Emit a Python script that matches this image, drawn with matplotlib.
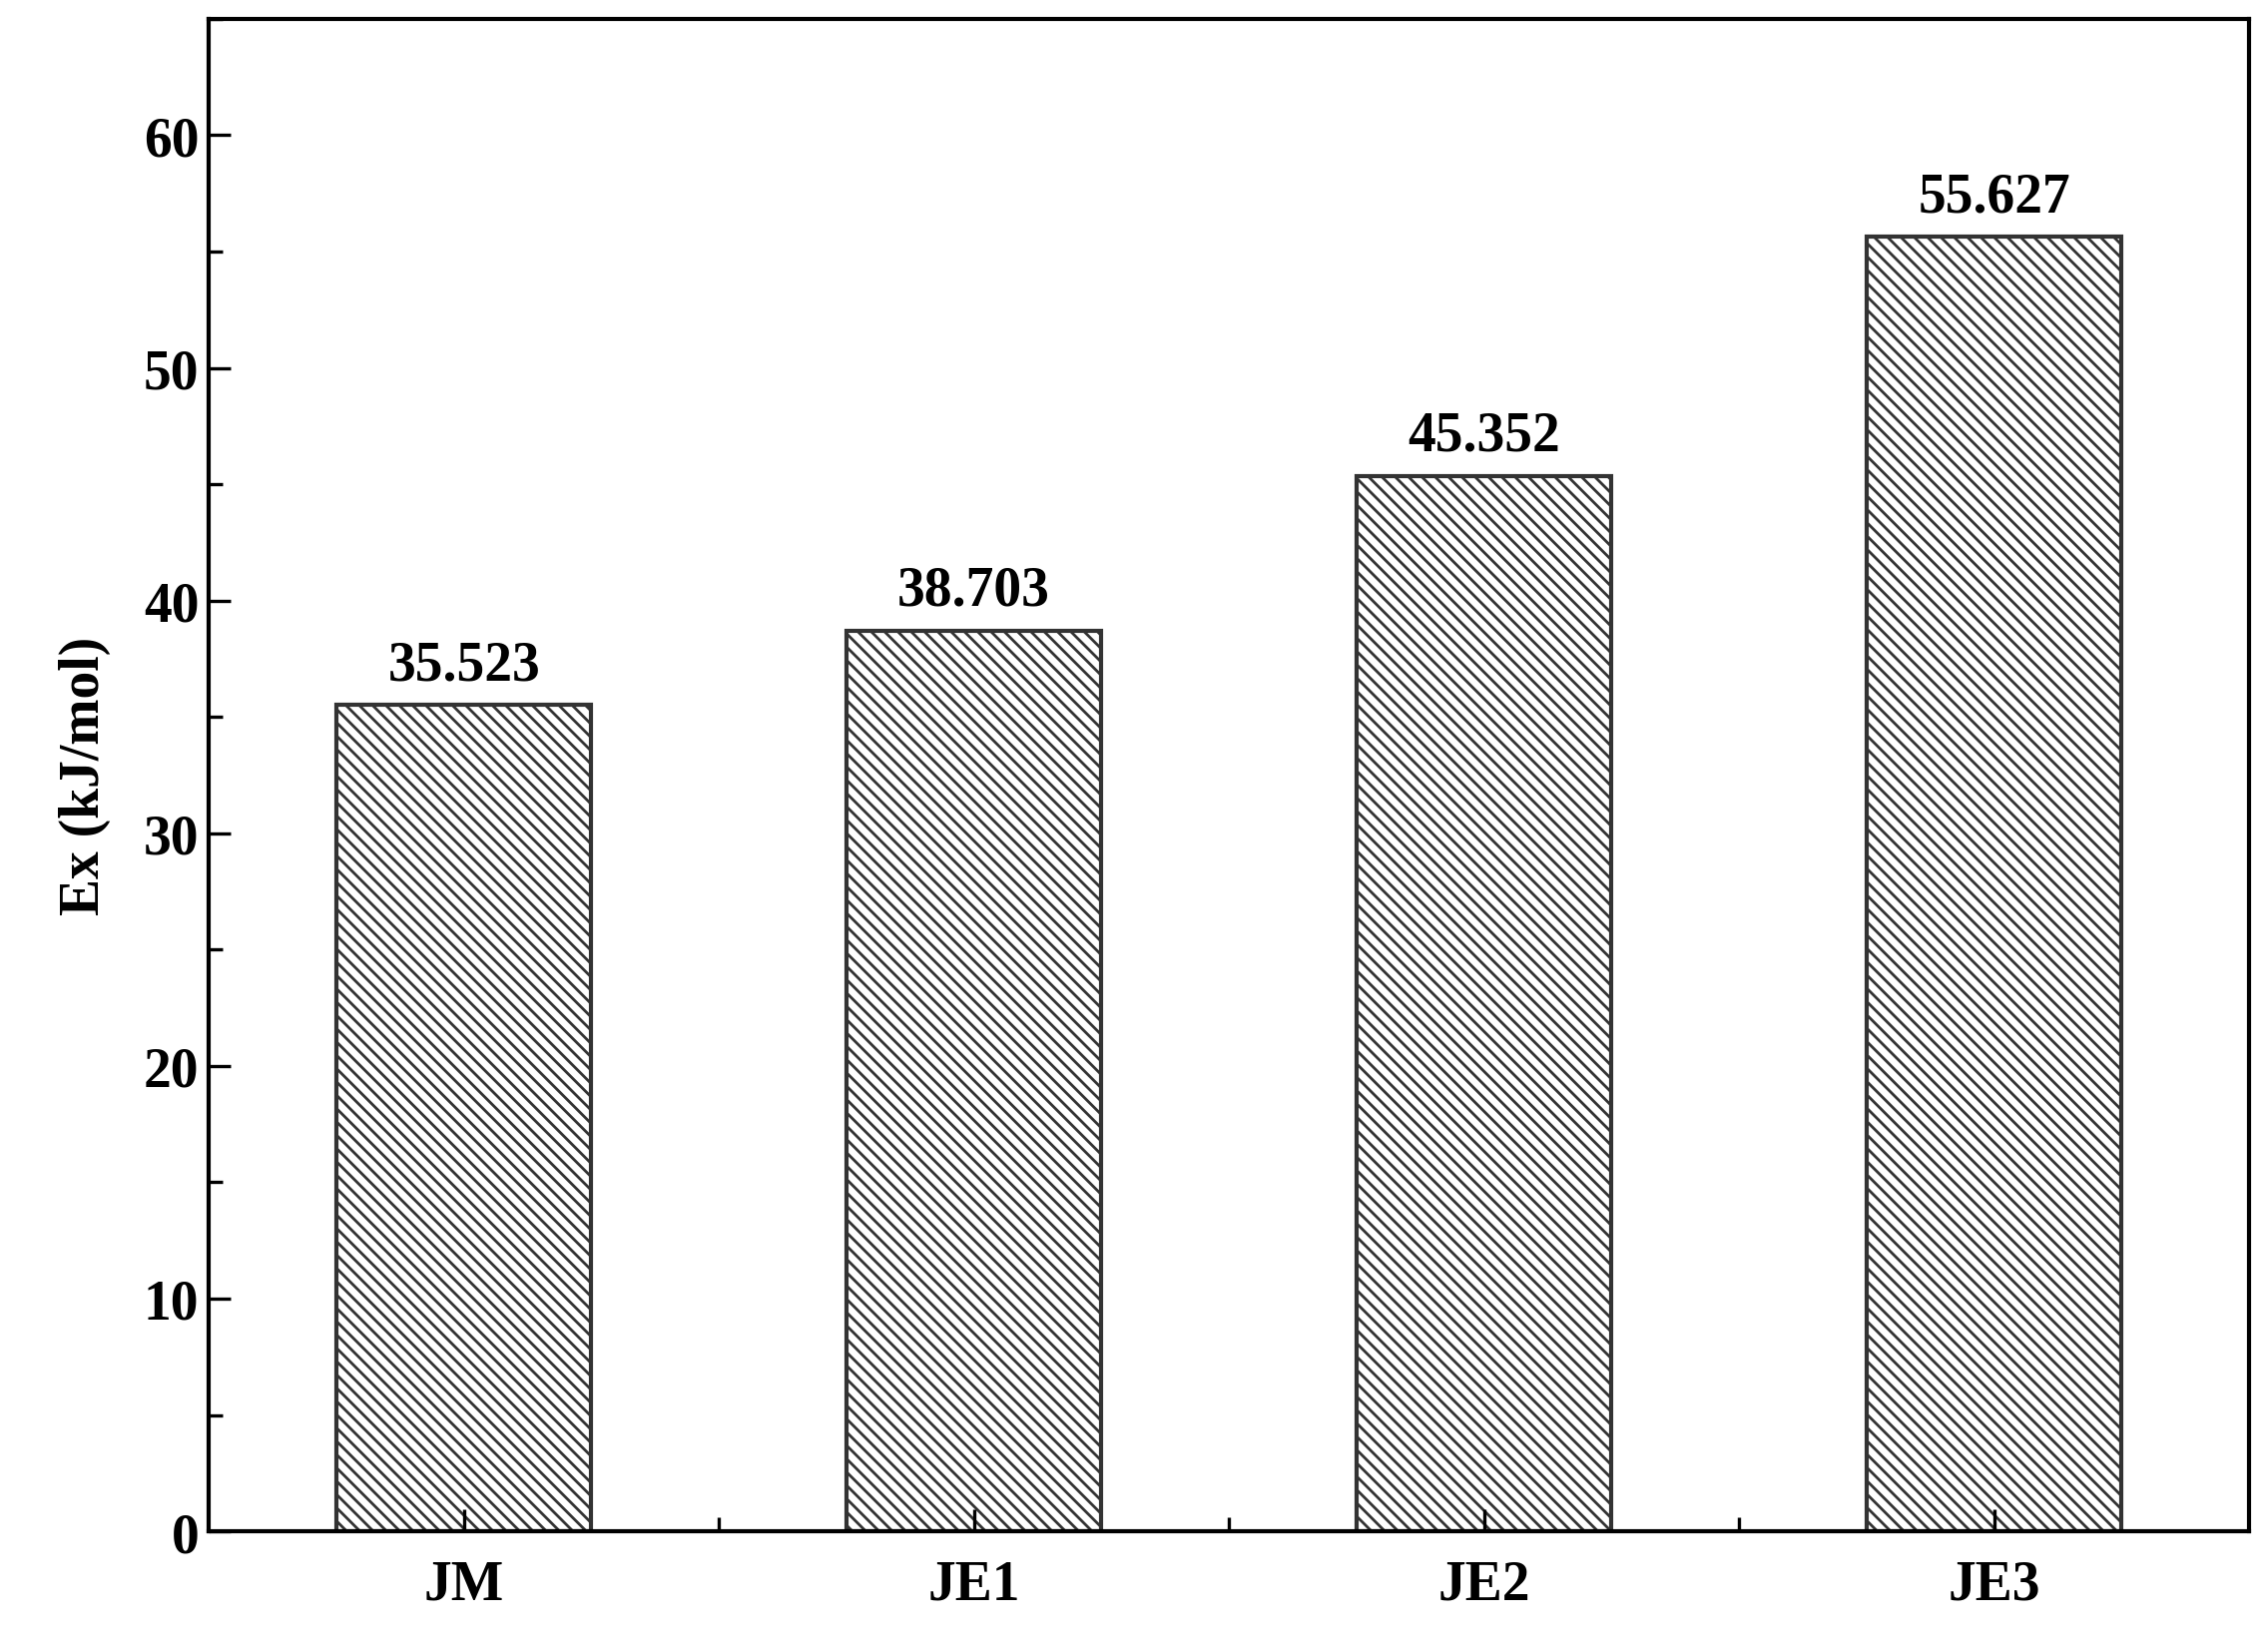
import matplotlib

matplotlib.use("Agg")
import matplotlib.pyplot as plt
from matplotlib.ticker import MultipleLocator

categories = ["JM", "JE1", "JE2", "JE3"]
values = [35.523, 38.703, 45.352, 55.627]
value_labels = ["35.523", "38.703", "45.352", "55.627"]

plt.rcParams["font.family"] = ["Liberation Serif", "DejaVu Serif"]
plt.rcParams["font.weight"] = "bold"
plt.rcParams["hatch.linewidth"] = 1.0

fig = plt.figure(figsize=(11.305, 8.28), dpi=200)
ax = fig.add_axes([0.0925, 0.073, 0.904, 0.915])

x = list(range(len(categories)))
ax.bar(x, values, width=0.5, color="white", edgecolor="#333333",
       hatch="\\\\\\\\\\", linewidth=1.5)
for xi, v, lab in zip(x, values, value_labels):
    ax.text(xi, v + 0.6, lab, ha="center", va="bottom", fontsize=20, fontweight="bold")

ax.set_xlim(-0.5, 3.5)
ax.set_ylim(0, 65)
ax.set_xticks(x)
ax.set_xticklabels(categories, fontsize=20, fontweight="bold")
ax.set_xticks([0.5, 1.5, 2.5], minor=True)
ax.yaxis.set_major_locator(MultipleLocator(10))
ax.yaxis.set_minor_locator(MultipleLocator(5))
ax.tick_params(axis="both", which="major", direction="in", length=8, width=1.2, labelsize=20)
ax.tick_params(axis="x", which="major", pad=10)
ax.tick_params(axis="both", which="minor", direction="in", length=5, width=1.2)
for lab in ax.get_yticklabels():
    lab.set_fontweight("bold")
ax.set_ylabel("Ex (kJ/mol)", fontsize=20, fontweight="bold", labelpad=12)
for s in ax.spines.values():
    s.set_linewidth(1.5)

fig.savefig("out.png", dpi=200)
